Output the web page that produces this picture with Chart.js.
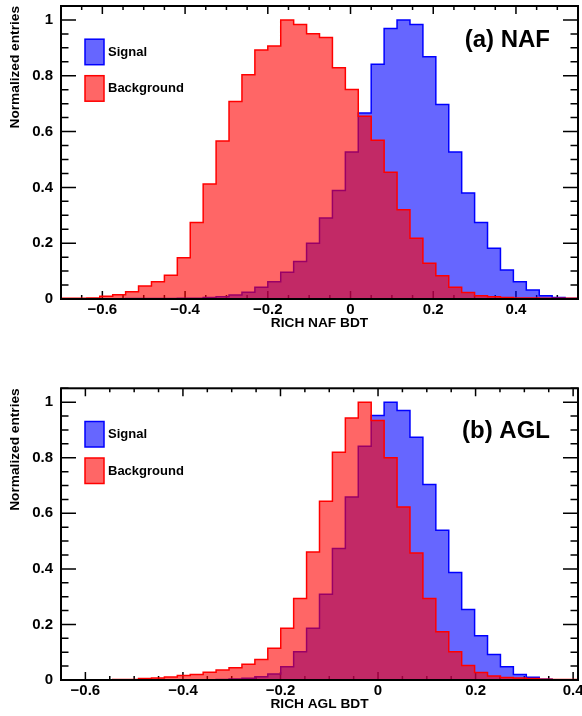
<!DOCTYPE html>
<html>
<head>
<meta charset="utf-8">
<script src="https://cdn.jsdelivr.net/npm/chart.js@4"></script>
<style>
  body { margin: 0; background: #fff; }
  .panel { position: absolute; left: 0; width: 582px; height: 358px; }
</style>
</head>
<body>
<div class="panel" style="top:0"><canvas id="nafChart" width="582" height="358"></canvas></div>
<div class="panel" style="top:358px"><canvas id="aglChart" width="582" height="358"></canvas></div>
<script>
// (a) NAF: 40 bins between the two range limits
const nafRange = [-0.7, 0.55];
const nafSignal = [
    0.001, 0.001, 0.001, 0.001, 0.001, 0.002, 0.002, 0.002, 0.002, 0.003,
    0.003, 0.005, 0.008, 0.014, 0.024, 0.042, 0.062, 0.096, 0.134, 0.200,
    0.290, 0.389, 0.527, 0.667, 0.841, 0.969, 1.000, 0.984, 0.868, 0.697,
    0.527, 0.380, 0.274, 0.182, 0.104, 0.062, 0.032, 0.012, 0.005, 0.002
];
const nafBackground = [
    0.003, 0.003, 0.004, 0.010, 0.015, 0.026, 0.047, 0.062, 0.085, 0.148,
    0.274, 0.412, 0.566, 0.708, 0.804, 0.892, 0.907, 1.000, 0.984, 0.951,
    0.937, 0.829, 0.751, 0.655, 0.569, 0.454, 0.320, 0.218, 0.128, 0.083,
    0.042, 0.023, 0.012, 0.008, 0.005, 0.004, 0.004, 0.003, 0.003, 0.003
];
const nafTicks = [-0.6, -0.4, -0.2, 0, 0.2, 0.4];

// (b) AGL
const aglRange = [-0.65, 0.41];
const aglSignal = [
    0.001, 0.001, 0.001, 0.001, 0.001, 0.001, 0.001, 0.001, 0.001, 0.001,
    0.001, 0.001, 0.002, 0.004, 0.006, 0.012, 0.022, 0.048, 0.102, 0.186,
    0.309, 0.473, 0.659, 0.841, 0.952, 1.000, 0.970, 0.874, 0.704, 0.539,
    0.387, 0.254, 0.159, 0.092, 0.048, 0.020, 0.010, 0.003, 0.000, 0.000
];
const aglBackground = [
    0.001, 0.001, 0.001, 0.001, 0.002, 0.002, 0.005, 0.007, 0.011, 0.016,
    0.020, 0.028, 0.036, 0.044, 0.057, 0.074, 0.114, 0.186, 0.293, 0.461,
    0.643, 0.820, 0.943, 1.000, 0.934, 0.800, 0.623, 0.457, 0.293, 0.174,
    0.102, 0.052, 0.027, 0.014, 0.009, 0.007, 0.005, 0.003, 0.002, 0.002
];
const aglTicks = [-0.6, -0.4, -0.2, 0, 0.2, 0.4];

const yTicks = [0, 0.2, 0.4, 0.6, 0.8, 1];
const yMax = 1.05;

const FONT = "'Liberation Sans', Arial, Helvetica, sans-serif";

// histogram outline as points on the bin edges
function toSteps(values, range) {
    const w = (range[1] - range[0]) / values.length;
    const pts = [{ x: range[0], y: 0 }];
    values.forEach((v, i) => pts.push({ x: range[0] + i * w, y: v }));
    pts.push({ x: range[1], y: values[values.length - 1] });
    pts.push({ x: range[1], y: 0 });
    return pts;
}

const fmt = v => String(Math.round(v * 10) / 10).replace('-', '\u2212');

// ROOT-like frame: inward ticks on four sides, box, legend and panel label
const rootFrame = {
    id: 'rootFrame',
    beforeDatasetsDraw(chart) {
        const { ctx, chartArea: a, scales: { x, y } } = chart;
        ctx.save();
        ctx.strokeStyle = '#000';
        ctx.lineWidth = 1.5;
        ctx.beginPath();
        const k0 = Math.ceil(x.min / 0.05 - 1e-9), k1 = Math.floor(x.max / 0.05 + 1e-9);
        for (let k = k0; k <= k1; k++) {
            const px = x.getPixelForValue(k * 0.05);
            const len = k % 4 === 0 ? 8 : 4;
            ctx.moveTo(px, a.bottom); ctx.lineTo(px, a.bottom - len);
            ctx.moveTo(px, a.top); ctx.lineTo(px, a.top + len);
        }
        for (let k = 0; k * 0.05 <= y.max + 1e-9; k++) {
            const py = y.getPixelForValue(k * 0.05);
            const len = k % 4 === 0 ? 15 : 7.5;
            ctx.moveTo(a.left, py); ctx.lineTo(a.left + len, py);
            ctx.moveTo(a.right, py); ctx.lineTo(a.right - len, py);
        }
        ctx.stroke();
        ctx.restore();
    },
    afterDatasetsDraw(chart, args, opts) {
        const { ctx, chartArea: a } = chart;
        ctx.save();
        ctx.strokeStyle = '#000';
        ctx.lineWidth = 2;
        ctx.strokeRect(a.left, a.top, a.right - a.left, a.bottom - a.top);

        // legend (Signal first, like the reference)
        const items = [chart.data.datasets[1], chart.data.datasets[0]];
        ctx.font = 'bold 13px ' + FONT;
        ctx.textBaseline = 'middle';
        ctx.textAlign = 'left';
        items.forEach((ds, i) => {
            const top = a.top + 33.2 + i * 36.5;
            ctx.fillStyle = ds.backgroundColor;
            ctx.fillRect(a.left + 24, top, 19, 25.5);
            ctx.strokeStyle = ds.borderColor;
            ctx.lineWidth = 1.5;
            ctx.strokeRect(a.left + 24, top, 19, 25.5);
            ctx.fillStyle = '#000';
            ctx.fillText(ds.label, a.left + 47, top + 13);
        });

        ctx.font = 'bold 24px ' + FONT;
        ctx.textAlign = 'right';
        ctx.fillStyle = '#000';
        ctx.fillText(opts.label, 550, opts.labelY);
        ctx.restore();
    }
};

function makeChart(id, range, signal, background, xTicks, xTitle, label, labelY, padTop, padBottom) {
    return new Chart(document.getElementById(id), {
        type: 'line',
        data: {
            datasets: [
                {
                    label: 'Background',
                    data: toSteps(background, range),
                    stepped: 'before',
                    fill: 'origin',
                    backgroundColor: 'rgba(255,0,0,0.6)',
                    borderColor: '#ff0000',
                    borderWidth: 1.5,
                    pointRadius: 0,
                    order: 0
                },
                {
                    label: 'Signal',
                    data: toSteps(signal, range),
                    stepped: 'before',
                    fill: 'origin',
                    backgroundColor: 'rgba(0,0,255,0.6)',
                    borderColor: '#0000ff',
                    borderWidth: 1.5,
                    pointRadius: 0,
                    order: 1
                }
            ]
        },
        options: {
            responsive: false,
            animation: false,
            events: [],
            layout: { padding: { left: 7, right: 4, top: padTop, bottom: padBottom } },
            plugins: {
                legend: { display: false },
                tooltip: { enabled: false },
                rootFrame: { label, labelY }
            },
            scales: {
                x: {
                    type: 'linear',
                    min: range[0],
                    max: range[1],
                    grid: { display: false, drawTicks: false },
                    border: { display: false },
                    afterBuildTicks: s => { s.ticks = xTicks.map(v => ({ value: v })); },
                    afterFit: s => { s.height = 33; s.paddingLeft = 0; s.paddingRight = 0; },
                    ticks: {
                        padding: 2,
                        color: '#000',
                        autoSkip: false,
                        maxRotation: 0,
                        font: { family: FONT, size: 15, weight: 'bold' },
                        callback: v => fmt(v)
                    },
                    title: {
                        display: true,
                        text: xTitle,
                        color: '#000',
                        font: { family: FONT, size: 13.7, weight: 'bold' },
                        padding: { top: 0, bottom: 0.7 }
                    }
                },
                y: {
                    min: 0,
                    max: yMax,
                    grid: { display: false, drawTicks: false },
                    border: { display: false },
                    afterBuildTicks: s => { s.ticks = yTicks.map(v => ({ value: v })); },
                    afterFit: s => { s.width = 54; s.paddingTop = 0; s.paddingBottom = 0; },
                    ticks: {
                        padding: 8,
                        color: '#000',
                        font: { family: FONT, size: 15, weight: 'bold' },
                        callback: v => fmt(v)
                    },
                    title: {
                        display: true,
                        text: 'Normalized entries',
                        align: 'end',
                        color: '#000',
                        font: { family: FONT, size: 13.7, weight: 'bold' },
                        padding: { top: 0, bottom: 0 }
                    }
                }
            }
        },
        plugins: [rootFrame]
    });
}

makeChart('nafChart', nafRange, nafSignal, nafBackground, nafTicks, 'RICH NAF BDT', '(a) NAF', 40, 6, 26);
makeChart('aglChart', aglRange, aglSignal, aglBackground, aglTicks, 'RICH AGL BDT', '(b) AGL', 73, 30.3, 3);
</script>
</body>
</html>
